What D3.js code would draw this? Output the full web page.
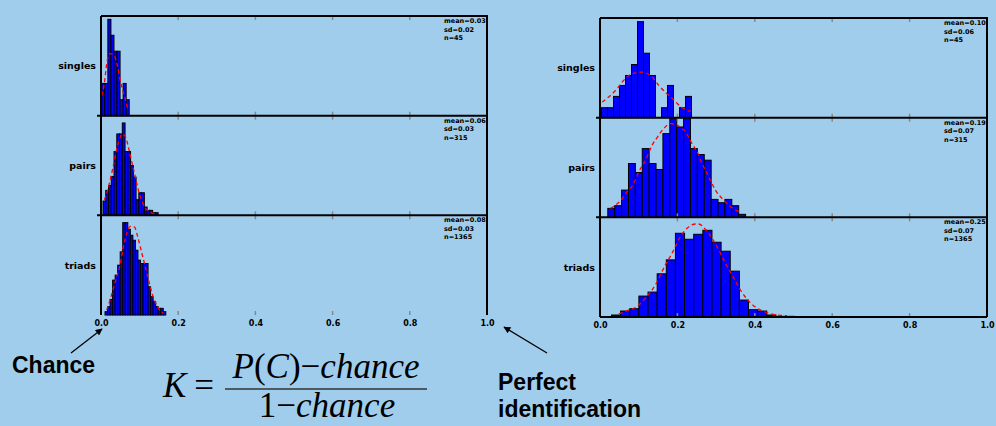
<!DOCTYPE html>
<html>
<head>
<meta charset="utf-8">
<script src="https://cdn.jsdelivr.net/npm/d3@7"></script>
<style>
  body { margin: 0; background: #a0cdeb; }
  svg { display: block; }
</style>
</head>
<body>
<div id="div_template"></div>
<script>
// labels and stats
var panelNames = ["singles", "pairs", "triads"];
var nValues = ["45", "315", "1365"];
var leftMeans = ["0.03", "0.06", "0.08"];
var leftSds = ["0.02", "0.03", "0.03"];
var rightMeans = ["0.10", "0.19", "0.25"];
var rightSds = ["0.06", "0.07", "0.07"];
var tickValues = [0, 0.2, 0.4, 0.6, 0.8, 1.0];

// histogram bins: start of first bin, bin width, bar heights (panel height = 300)
var leftBinStart = [0.002, 0.0052, 0.0104];
var leftBinWidth = [0.0079, 0.00714, 0.00656];
var leftSingles = [97, 97, 290, 242, 194, 194, 48, 97, 48];
var leftPairs = [43, 75, 90, 117, 192, 245, 245, 278, 192, 192, 150, 115, 47, 68, 68, 25, 15, 15, 8, 8];
var leftTriads = [10, 25, 47, 105, 120, 150, 190, 278, 278, 258, 240, 225, 195, 165, 155, 155, 155, 85, 55, 40, 25, 20, 20, 10];

var rightBinStart = [0.0039, 0.0202, 0.0297];
var rightBinWidth = [0.0155, 0.0178, 0.0236];
var rightSingles = [30, 30, 64, 97, 127, 160, 289, 194, 127, 0, 30, 97, 0, 30, 64];
var rightPairs = [27, 35, 82, 162, 135, 207, 162, 144, 252, 297, 272, 297, 207, 189, 172, 54, 44, 54, 35, 9];
var rightTriads = [6, 18, 25, 63, 75, 130, 172, 252, 234, 249, 261, 225, 198, 138, 51, 22, 18, 6, 2, 2];

// fitted curves: [value, height]
var leftSinglesFit = [[0.0017, 60], [0.0087, 97], [0.0147, 155], [0.0234, 187], [0.0346, 180], [0.0433, 145], [0.0494, 110], [0.0554, 80], [0.0623, 53], [0.0693, 20]];
var leftPairsFit = [[0.0087, 47], [0.0173, 75], [0.0234, 105], [0.0294, 135], [0.0346, 165], [0.0407, 200], [0.0468, 225], [0.0554, 245], [0.0641, 235], [0.071, 205], [0.0779, 170], [0.084, 140], [0.09, 110], [0.097, 75], [0.1056, 45], [0.1143, 23], [0.1273, 10], [0.1403, 3]];
var leftTriadsFit = [[0.0147, 15], [0.0234, 45], [0.032, 80], [0.0407, 115], [0.0494, 150], [0.058, 205], [0.0667, 245], [0.0753, 267], [0.0866, 265], [0.0952, 235], [0.1039, 195], [0.1126, 155], [0.1212, 115], [0.1299, 75], [0.1385, 45], [0.1489, 20], [0.1619, 5]];
var rightSinglesFit = [[0.0056, 47], [0.027, 67], [0.044, 87], [0.061, 112], [0.083, 132], [0.109, 137], [0.135, 122], [0.152, 97], [0.171, 74], [0.19, 54], [0.21, 32], [0.234, 19]];
var rightPairsFit = [[0.0271, 27], [0.0529, 50], [0.0701, 77], [0.0873, 102], [0.0985, 132], [0.1234, 187], [0.1346, 217], [0.1458, 237], [0.163, 265], [0.182, 282], [0.2034, 275], [0.2249, 250], [0.2378, 222], [0.2533, 192], [0.2619, 167], [0.2723, 142], [0.2852, 112], [0.2981, 82], [0.3153, 57], [0.3325, 37], [0.3583, 17]];
var rightTriadsFit = [[0.0486, 9], [0.0701, 19], [0.0959, 32], [0.1174, 57], [0.1432, 97], [0.169, 157], [0.1862, 192], [0.2077, 242], [0.2249, 267], [0.2464, 280], [0.255, 280], [0.2723, 264], [0.2895, 237], [0.3067, 202], [0.3239, 162], [0.3411, 127], [0.3626, 82], [0.3798, 54], [0.4013, 30], [0.4271, 15], [0.4529, 7], [0.483, 4]];

var width = 996, height = 426;

var svg = d3.select("#div_template")
  .append("svg")
  .attr("width", width)
  .attr("height", height);

svg.append("defs").append("marker")
  .attr("id", "arrow")
  .attr("viewBox", "0 0 10 10")
  .attr("refX", 9).attr("refY", 5)
  .attr("markerWidth", 9).attr("markerHeight", 7)
  .attr("markerUnits", "userSpaceOnUse")
  .attr("orient", "auto")
  .append("path")
  .attr("d", "M0,0 L10,5 L0,10 z")
  .attr("fill", "#000");

function drawChart(cfg) {
  var x = d3.scaleLinear().domain([0, 1]).range([cfg.left, cfg.right]);
  var ph = (cfg.bottom - cfg.top) / 3;
  var g = svg.append("g");

  for (var i = 0; i < 3; i++) {
    var pTop = cfg.top + i * ph;
    var y = d3.scaleLinear().domain([0, 300]).range([pTop + ph, pTop]);
    var bars = cfg.bars[i].map(function(h, j) {
      return {x0: cfg.start[i] + j * cfg.binWidth[i], h: h};
    }).filter(function(d) { return d.h > 0; });

    // the bars
    g.append("g").selectAll("rect")
      .data(bars)
      .enter()
      .append("rect")
        .attr("x", function(d) { return x(d.x0); })
        .attr("y", function(d) { return y(d.h); })
        .attr("width", x(cfg.binWidth[i]) - x(0))
        .attr("height", function(d) { return y(0) - y(d.h); })
        .style("fill", "#0000ff")
        .style("stroke", "#000")
        .style("stroke-width", 1);

    // fitted normal (dashed red)
    var line = d3.line()
      .x(function(d) { return x(d[0]); })
      .y(function(d) { return y(d[1]); })
      .curve(d3.curveMonotoneX);
    g.append("path")
      .datum(cfg.fits[i])
      .attr("d", line)
      .style("fill", "none")
      .style("stroke", "#ff0000")
      .style("stroke-width", 1.3)
      .style("stroke-dasharray", "4,3");

    // gray inner ticks
    tickValues.slice(1, 5).forEach(function(t) {
      g.append("line")
        .attr("x1", x(t)).attr("x2", x(t))
        .attr("y1", pTop).attr("y2", pTop + 4)
        .style("stroke", "#888").style("stroke-width", 1.5);
      g.append("line")
        .attr("x1", x(t)).attr("x2", x(t))
        .attr("y1", pTop + ph - 4).attr("y2", pTop + ph)
        .style("stroke", "#888").style("stroke-width", 1.5);
    });

    // row label
    g.append("text")
      .attr("x", cfg.left - 5)
      .attr("y", pTop + ph / 2)
      .attr("text-anchor", "end")
      .attr("dominant-baseline", "central")
      .style("font-family", "DejaVu Sans")
      .style("font-weight", "bold")
      .style("font-size", "9.5px")
      .text(panelNames[i]);

    // stats
    var stats = ["mean=" + cfg.means[i], "sd=" + cfg.sds[i], "n=" + nValues[i]];
    stats.forEach(function(s, k) {
      g.append("text")
        .attr("x", cfg.right - 43)
        .attr("y", pTop + 5 + k * 8.5)
        .attr("dominant-baseline", "central")
        .style("font-family", "DejaVu Sans")
        .style("font-weight", "bold")
        .style("font-size", "6.5px")
        .text(s);
    });

    // divider lines
    if (i > 0) {
      g.append("line")
        .attr("x1", cfg.left - 4).attr("x2", cfg.right)
        .attr("y1", pTop).attr("y2", pTop)
        .style("stroke", "#000").style("stroke-width", 2);
    }
  }

  // frame
  g.append("line")
    .attr("x1", cfg.left).attr("x2", cfg.right + 1)
    .attr("y1", cfg.top).attr("y2", cfg.top)
    .style("stroke", "#000").style("stroke-width", 2);
  g.append("line")
    .attr("x1", cfg.left).attr("x2", cfg.left)
    .attr("y1", cfg.top).attr("y2", cfg.bottom)
    .style("stroke", "#000").style("stroke-width", 2);
  g.append("line")
    .attr("x1", cfg.right).attr("x2", cfg.right)
    .attr("y1", cfg.top).attr("y2", cfg.bottom)
    .style("stroke", "#000").style("stroke-width", 2);
  if (cfg.bottomLine) {
    g.append("line")
      .attr("x1", cfg.left).attr("x2", cfg.right)
      .attr("y1", cfg.bottom).attr("y2", cfg.bottom)
      .style("stroke", "#000").style("stroke-width", 2);
  }

  // x axis labels
  g.append("g")
    .attr("transform", "translate(0," + (cfg.bottom + 2) + ")")
    .style("font-family", "DejaVu Sans")
    .style("font-weight", "bold")
    .style("font-size", "8px")
    .call(d3.axisBottom(x).tickValues(tickValues).tickFormat(d3.format(".1f")).tickSize(0))
    .call(function(a) { a.select(".domain").remove(); })
    .selectAll("text").attr("fill", "#000");
}

drawChart({
  left: 101, right: 487, top: 16, bottom: 315,
  start: leftBinStart, binWidth: leftBinWidth,
  bars: [leftSingles, leftPairs, leftTriads],
  fits: [leftSinglesFit, leftPairsFit, leftTriadsFit],
  means: leftMeans, sds: leftSds, bottomLine: false
});

drawChart({
  left: 600, right: 987, top: 18, bottom: 317,
  start: rightBinStart, binWidth: rightBinWidth,
  bars: [rightSingles, rightPairs, rightTriads],
  fits: [rightSinglesFit, rightPairsFit, rightTriadsFit],
  means: rightMeans, sds: rightSds, bottomLine: true
});

// annotations
svg.append("line")
  .attr("x1", 71).attr("y1", 353).attr("x2", 102).attr("y2", 329)
  .style("stroke", "#000").style("stroke-width", 1.3)
  .attr("marker-end", "url(#arrow)");
svg.append("line")
  .attr("x1", 547).attr("y1", 353).attr("x2", 504).attr("y2", 327)
  .style("stroke", "#000").style("stroke-width", 1.3)
  .attr("marker-end", "url(#arrow)");

var annoFont = "Liberation Sans, Arial";
svg.append("text")
  .attr("x", 12).attr("y", 373)
  .style("font-family", annoFont)
  .style("font-weight", "bold")
  .style("font-size", "23px")
  .text("Chance");

svg.append("text")
  .attr("x", 498).attr("y", 390)
  .style("font-family", annoFont)
  .style("font-weight", "bold")
  .style("font-size", "23px")
  .text("Perfect");
svg.append("text")
  .attr("x", 498).attr("y", 417)
  .style("font-family", annoFont)
  .style("font-weight", "bold")
  .style("font-size", "23px")
  .text("identification");

// formula K = (P(C) - chance) / (1 - chance)
var formula = svg.append("g")
  .style("font-family", "Liberation Serif, Times New Roman")
  .style("font-size", "35px");
var k = formula.append("text").attr("x", 163).attr("y", 397);
k.append("tspan").style("font-style", "italic").text("K");
k.append("tspan").attr("dx", 8).text("=");

var num = formula.append("text").attr("x", 326).attr("y", 378).attr("text-anchor", "middle");
num.append("tspan").style("font-style", "italic").text("P");
num.append("tspan").text("(");
num.append("tspan").style("font-style", "italic").text("C");
num.append("tspan").text(")\u2212");
num.append("tspan").style("font-style", "italic").text("chance");

var den = formula.append("text").attr("x", 327).attr("y", 417).attr("text-anchor", "middle");
den.append("tspan").text("1\u2212");
den.append("tspan").style("font-style", "italic").text("chance");

formula.append("line")
  .attr("x1", 225).attr("x2", 427)
  .attr("y1", 389).attr("y2", 389)
  .style("stroke", "#333").style("stroke-width", 1.6);
</script>
</body>
</html>
